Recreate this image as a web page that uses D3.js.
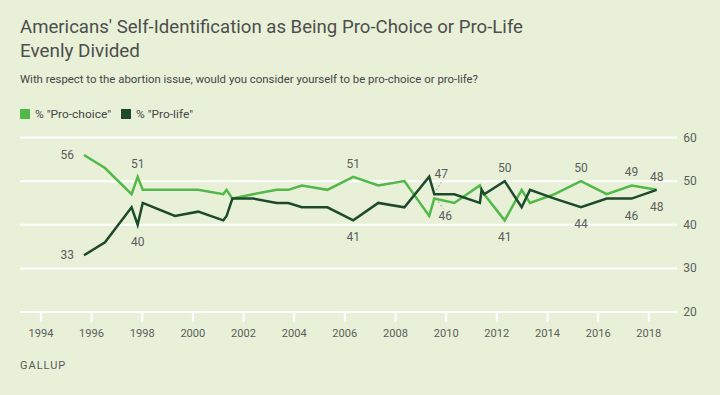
<!DOCTYPE html>
<html>
<head>
<meta charset="utf-8">
<script src="https://cdn.jsdelivr.net/npm/d3@7"></script>
<style>
  body { margin: 0; background: #e8f1d8; }
  svg { display: block; font-family: Roboto, "Noto Sans", sans-serif; }
</style>
</head>
<body>
<div id="chart"></div>
<script>
// poll dates as decimal years
const years = [1995.72, 1996.55, 1997.60, 1997.84, 1998.04, 1999.31, 2000.23, 2001.22, 2001.35, 2001.58,
               2002.40, 2003.33, 2003.79, 2004.32, 2005.33, 2006.35, 2007.34, 2008.37, 2009.35, 2009.55,
               2010.34, 2011.35, 2011.42, 2011.52, 2012.33, 2013.00, 2013.33, 2014.30, 2015.34, 2016.36,
               2017.34, 2018.33];
const proChoice = [56, 53, 47, 51, 48, 48, 48, 47, 48, 46,
                   47, 48, 48, 49, 48, 51, 49, 50, 42, 46,
                   45, 49, 48, 47, 41, 48, 45, 47, 50, 47,
                   49, 48];
const proLife = [33, 36, 44, 40, 45, 42, 43, 41, 42, 46,
                 46, 45, 45, 44, 44, 41, 45, 44, 51, 47,
                 47, 45, 48, 47, 50, 44, 48, 46, 44, 46,
                 46, 48];
const yearTicks = [1994, 1996, 1998, 2000, 2002, 2004, 2006, 2008, 2010, 2012, 2014, 2016, 2018];
const valueTicks = [20, 30, 40, 50, 60];
const seriesNames = ['% "Pro-choice"', '% "Pro-life"'];

// which points get a number printed next to them
const callouts = [
  {i: 0, s: 0, pos: 'left'}, {i: 0, s: 1, pos: 'left'},
  {i: 3, s: 0, pos: 'above'}, {i: 3, s: 1, pos: 'below'},
  {i: 15, s: 0, pos: 'above'}, {i: 15, s: 1, pos: 'below'},
  {i: 19, s: 1, pos: 'leaderUp'}, {i: 19, s: 0, pos: 'leaderDown'},
  {i: 24, s: 1, pos: 'above'}, {i: 24, s: 0, pos: 'below'},
  {i: 28, s: 0, pos: 'above'}, {i: 28, s: 1, pos: 'below'},
  {i: 30, s: 0, pos: 'above'}, {i: 30, s: 1, pos: 'below'},
  {i: 31, s: 0, pos: 'above'}, {i: 31, s: 1, pos: 'below'}
];

const width = 720, height = 395;
const colors = ['#52b848', '#1d4a2a'];
const textGray = '#5c5c5c';

const svg = d3.select('#chart').append('svg')
  .attr('width', width).attr('height', height);

svg.append('rect').attr('width', width).attr('height', height).attr('fill', '#e8f1d8');

// title block
svg.append('text').attr('x', 20).attr('y', 33)
  .attr('font-size', 19).attr('fill', '#4d4d4d')
  .attr('textLength', 503).attr('lengthAdjust', 'spacingAndGlyphs')
  .text("Americans' Self-Identification as Being Pro-Choice or Pro-Life");
svg.append('text').attr('x', 20).attr('y', 57)
  .attr('font-size', 19).attr('fill', '#4d4d4d')
  .attr('textLength', 120).attr('lengthAdjust', 'spacingAndGlyphs')
  .text('Evenly Divided');
svg.append('text').attr('x', 20).attr('y', 83)
  .attr('font-size', 11).attr('fill', '#454545')
  .attr('textLength', 458).attr('lengthAdjust', 'spacingAndGlyphs')
  .text('With respect to the abortion issue, would you consider yourself to be pro-choice or pro-life?');

// legend
const legendX = [20, 121];
const legendLen = [76, 57];
seriesNames.forEach((name, k) => {
  svg.append('rect').attr('x', legendX[k]).attr('y', 109).attr('width', 10).attr('height', 10)
    .attr('fill', colors[k]);
  svg.append('text').attr('x', legendX[k] + 15).attr('y', 118)
    .attr('font-size', 11).attr('fill', '#454545')
    .attr('textLength', legendLen[k]).attr('lengthAdjust', 'spacingAndGlyphs')
    .text(name);
});

const x = d3.scaleLinear().domain([1994, 2018]).range([40.4, 648.3]);
const y = d3.scaleLinear().domain([20, 60]).range([312, 137.5]);

// gridlines + right labels
svg.append('g').selectAll('line').data(valueTicks).enter().append('line')
  .attr('x1', 20).attr('x2', 677)
  .attr('y1', d => y(d)).attr('y2', d => y(d))
  .attr('stroke', '#fff').attr('stroke-width', 2);
svg.append('g').selectAll('text').data(valueTicks).enter().append('text')
  .attr('x', 690).attr('y', d => y(d) + 4)
  .attr('text-anchor', 'middle')
  .attr('font-size', 12).attr('fill', textGray)
  .text(d => d);

// x axis ticks
const xAxis = svg.append('g')
  .attr('transform', `translate(0, ${y(20)})`)
  .call(d3.axisBottom(x).tickValues(yearTicks).tickFormat(d3.format('d')).tickSize(10).tickPadding(7));
xAxis.select('.domain').remove();
xAxis.selectAll('line').attr('stroke', '#fff').attr('stroke-width', 2);
xAxis.selectAll('text').attr('font-size', 11.5).attr('fill', textGray)
  .attr('font-family', 'Roboto, sans-serif')
  .attr('textLength', 25).attr('lengthAdjust', 'spacingAndGlyphs');

// lines
const series = [proChoice, proLife];
const line = d3.line().x((d, i) => x(years[i])).y(d => y(d));
// draw pro-life first so pro-choice sits on top like the original? original has pro-life over pro-choice at crossings
[0, 1].forEach(k => {
  svg.append('path').datum(series[k])
    .attr('d', line)
    .attr('fill', 'none')
    .attr('stroke', colors[k])
    .attr('stroke-width', 2.5)
    .attr('stroke-linejoin', 'miter');
});

// value labels
const labels = svg.append('g').attr('font-size', 12).attr('fill', textGray);
callouts.forEach(c => {
  const v = series[c.s][c.i];
  const px = x(years[c.i]), py = y(v);
  if (c.pos === 'left') {
    labels.append('text').attr('x', px - 10).attr('y', py + 4).attr('text-anchor', 'end').text(v);
  } else if (c.pos === 'above') {
    labels.append('text').attr('x', px).attr('y', py - 9).attr('text-anchor', 'middle').text(v);
  } else if (c.pos === 'below') {
    labels.append('text').attr('x', px).attr('y', py + 21).attr('text-anchor', 'middle').text(v);
  } else if (c.pos === 'leaderUp') {
    svg.append('line').attr('x1', px + 2).attr('y1', py - 4).attr('x2', px + 7).attr('y2', py - 12)
      .attr('stroke', '#999').attr('stroke-dasharray', '2,2');
    labels.append('text').attr('x', px + 7).attr('y', py - 16).attr('text-anchor', 'middle').text(v);
  } else if (c.pos === 'leaderDown') {
    svg.append('line').attr('x1', px + 4).attr('y1', py + 3).attr('x2', px + 9).attr('y2', py + 10)
      .attr('stroke', '#999').attr('stroke-dasharray', '2,2');
    labels.append('text').attr('x', px + 11).attr('y', py + 21).attr('text-anchor', 'middle').text(v);
  }
});

// source
svg.append('text').attr('x', 20).attr('y', 369)
  .attr('font-size', 11).attr('fill', '#5a5a5a').attr('letter-spacing', 1)
  .text('GALLUP');
</script>
</body>
</html>
